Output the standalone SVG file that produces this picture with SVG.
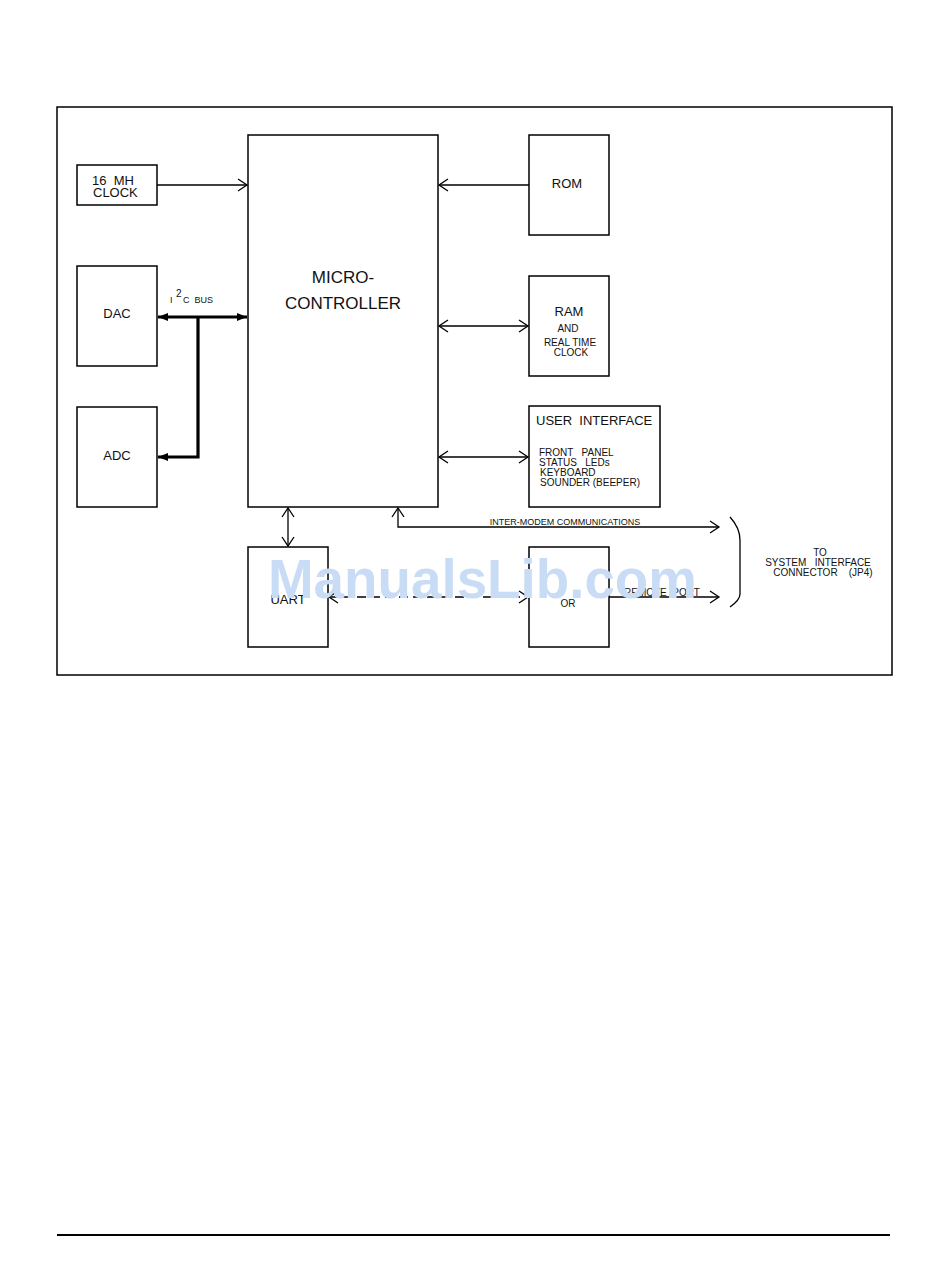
<svg xmlns="http://www.w3.org/2000/svg" width="950" height="1267" viewBox="0 0 950 1267">
<defs>
<style>
.box{fill:none;stroke:#000;stroke-width:1.5}
.ln{fill:none;stroke:#000;stroke-width:1.3}
.bus{fill:none;stroke:#000;stroke-width:3.2}
text{font-family:"Liberation Sans",Arial,sans-serif;fill:#111}
.t13{font-size:13px}
.t10{font-size:10px}
.t9{font-size:9px}
.wm{font-family:"Liberation Sans",Arial,sans-serif;font-weight:bold;font-size:56px;fill:#c9dcf6}
</style>
<marker id="oa" markerUnits="userSpaceOnUse" markerWidth="12" markerHeight="14" refX="10" refY="7" orient="auto-start-reverse">
<path d="M1,1 L10,7 L1,13" fill="none" stroke="#000" stroke-width="1.3"/>
</marker>
<marker id="fa" markerUnits="userSpaceOnUse" markerWidth="12" markerHeight="10" refX="10" refY="5" orient="auto-start-reverse">
<path d="M0,1 L10,5 L0,9 Z" fill="#000"/>
</marker>
</defs>
<rect width="950" height="1267" fill="#fff"/>
<rect x="57" y="107" width="835" height="568" class="box"/>
<line x1="57" y1="1235" x2="890" y2="1235" stroke="#000" stroke-width="2"/>

<g id="clock"><rect x="77" y="165" width="80" height="40" class="box"/>
<text x="92" y="185" class="t13" xml:space="preserve">16  MH</text><text x="93" y="197" class="t13">CLOCK</text></g>
<g id="micro"><rect x="248" y="135" width="190" height="372" class="box"/>
<text x="343" y="283" font-size="17" text-anchor="middle">MICRO-</text>
<text x="343" y="309" font-size="17" text-anchor="middle">CONTROLLER</text></g>
<g id="rom"><rect x="529" y="135" width="80" height="100" class="box"/>
<text x="567" y="188" class="t13" text-anchor="middle">ROM</text></g>
<g id="ram"><rect x="529" y="276" width="80" height="100" class="box"/>
<text x="569" y="316" class="t13" text-anchor="middle">RAM</text>
<text x="568" y="332" class="t10" text-anchor="middle">AND</text>
<text x="570" y="346" class="t10" text-anchor="middle">REAL TIME</text>
<text x="571" y="356" class="t10" text-anchor="middle">CLOCK</text></g>
<g id="ui"><rect x="529" y="406" width="131" height="101" class="box"/>
<text x="536" y="425" class="t13" xml:space="preserve">USER  INTERFACE</text>
<text x="539" y="456" class="t10" xml:space="preserve">FRONT   PANEL</text>
<text x="539" y="466" class="t10" xml:space="preserve">STATUS   LEDs</text>
<text x="540" y="476" class="t10">KEYBOARD</text>
<text x="540" y="486" class="t10">SOUNDER (BEEPER)</text></g>
<g id="dac"><rect x="77" y="266" width="80" height="100" class="box"/>
<text x="117" y="318" class="t13" text-anchor="middle">DAC</text></g>
<g id="adc"><rect x="77" y="407" width="80" height="100" class="box"/>
<text x="117" y="460" class="t13" text-anchor="middle">ADC</text></g>
<g id="uart"><rect x="248" y="547" width="80" height="100" class="box"/>
<text x="288" y="604" class="t13" text-anchor="middle">UART</text></g>
<g id="or"><rect x="529" y="547" width="80" height="100" class="box"/>
<text x="568" y="607" class="t10" text-anchor="middle">OR</text></g>

<g id="connectors">
<line x1="157" y1="185" x2="247" y2="185" class="ln" marker-end="url(#oa)"/>
<line x1="529" y1="185" x2="439" y2="185" class="ln" marker-end="url(#oa)"/>
<line x1="439" y1="326" x2="528" y2="326" class="ln" marker-start="url(#oa)" marker-end="url(#oa)"/>
<line x1="439" y1="457" x2="528" y2="457" class="ln" marker-start="url(#oa)" marker-end="url(#oa)"/>
<line x1="158" y1="317" x2="247" y2="317" class="bus" marker-start="url(#fa)" marker-end="url(#fa)"/>
<polyline points="198,317 198,457 158,457" class="bus" marker-end="url(#fa)"/>
<line x1="288" y1="508" x2="288" y2="546" class="ln" marker-start="url(#oa)" marker-end="url(#oa)"/>
<polyline points="398,508 398,527 719,527" class="ln" marker-start="url(#oa)" marker-end="url(#oa)"/>
<line x1="329" y1="597" x2="528" y2="597" class="ln" stroke-dasharray="9,5" marker-start="url(#oa)" marker-end="url(#oa)"/>
<line x1="609" y1="597" x2="719" y2="597" class="ln" marker-end="url(#oa)"/>
<path d="M730,517 Q740,528 740,540 L740,594 Q740,600 730,607" class="ln"/>
</g>
<g id="labels">
<text x="170" y="303" class="t9">I</text>
<text x="176" y="297" class="t10">2</text>
<text x="183" y="303" class="t9" xml:space="preserve">C  BUS</text>
<text x="565" y="525" class="t9" text-anchor="middle">INTER-MODEM COMMUNICATIONS</text>
<text x="624" y="596" class="t10" xml:space="preserve">REMOTE  PORT</text>
<text x="820" y="556" class="t10" text-anchor="middle">TO</text>
<text x="818" y="566" class="t10" text-anchor="middle" xml:space="preserve">SYSTEM   INTERFACE</text>
<text x="823" y="576" class="t10" text-anchor="middle" xml:space="preserve">CONNECTOR    (JP4)</text>
</g>
<text x="268" y="598" class="wm" textLength="429" lengthAdjust="spacingAndGlyphs">ManualsLib.com</text>
</svg>
